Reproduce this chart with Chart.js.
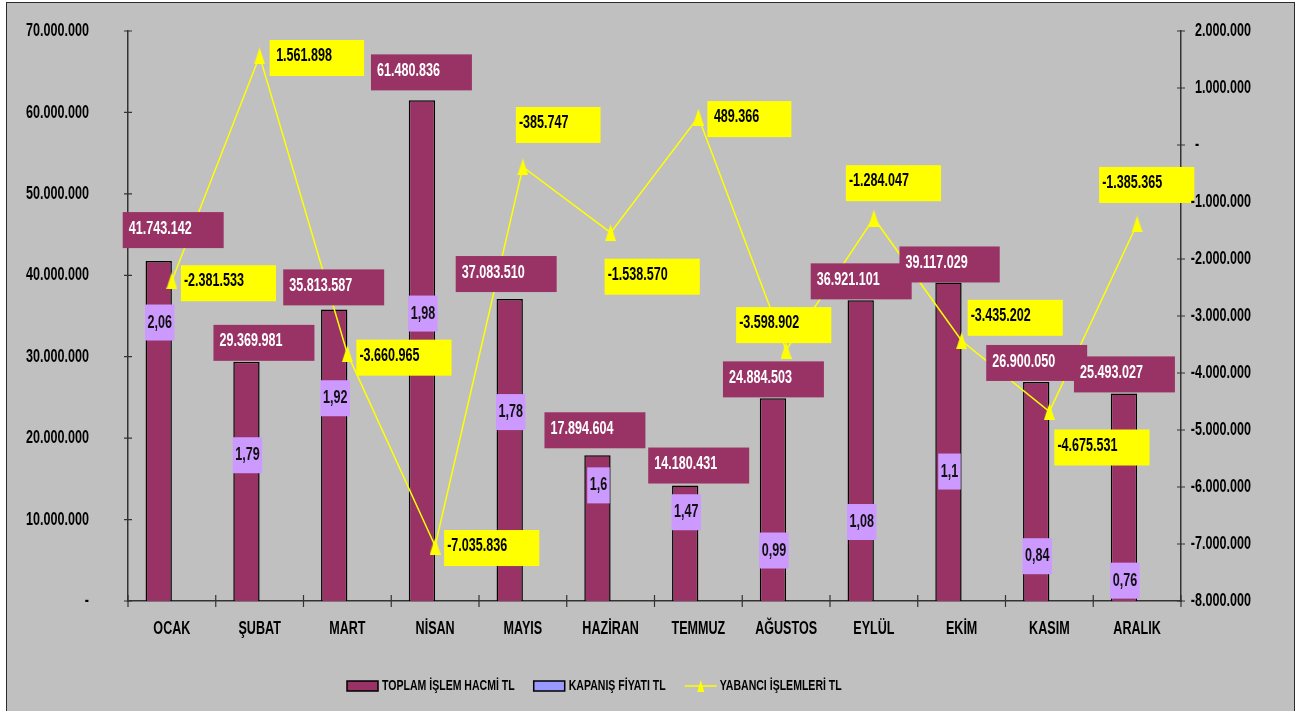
<!DOCTYPE html>
<html>
<head>
<meta charset="utf-8">
<title>Aylık İşlem Hacmi</title>
<style>
body { margin:0; background:#fff; overflow:hidden; }
#frame { position:absolute; left:6px; top:2px; width:1287px; height:760px; border:1.5px solid #2b2b2b; background:#c0c0c0; }
#chart { position:absolute; left:0; top:0; }
</style>
<script src="https://cdn.jsdelivr.net/npm/chart.js@4.4.0/dist/chart.umd.min.js"></script>
</head>
<body>
<div id="frame"></div>
<canvas id="chart" width="1297" height="711"></canvas>
<script>
// data
const months = ['OCAK','ŞUBAT','MART','NİSAN','MAYIS','HAZİRAN','TEMMUZ','AĞUSTOS','EYLÜL','EKİM','KASIM','ARALIK'];
const volume = [41743142, 29369981, 35813587, 61480836, 37083510, 17894604, 14180431, 24884503, 36921101, 39117029, 26900050, 25493027];
const closePrice = [2.06, 1.79, 1.92, 1.98, 1.78, 1.6, 1.47, 0.99, 1.08, 1.1, 0.84, 0.76];
const foreign = [-2381533, 1561898, -3660965, -7035836, -385747, -1538570, 489366, -3598902, -1284047, -3435202, -4675531, -1385365];
const seriesNames = ['TOPLAM İŞLEM HACMİ TL', 'KAPANIŞ FİYATI TL', 'YABANCI İŞLEMLERİ TL'];

// label layout (hand placed in the original, like dragged excel labels)
const volNudge = [[14,-12],[17,0],[-1,-3],[-1,-9],[-4,-6],[-3,-6],[13,-1],[0,0],[0,0],[1,1],[0,0],[0,0]];
const frgNudge = [[0,0],[1,-0.5],[0,1.5],[0,-0.5],[-16,-44.5],[-15,41.5],[0,-0.5],[-59,-27.5],[-37,-37.5],[-3,-25.5],[-4,33.5],[-47,-41.5]];
const priceLabelAt = [34.2e6, 17.9e6, 24.9e6, 35.3e6, 23.2e6, 14.2e6, 10.9e6, 6.2e6, 9.7e6, 15.9e6, 5.5e6, 2.5e6]; // left axis units
const legendLeft = 347, legendY = 686;

const SQ = 0.68, FONT = '"Liberation Sans", Arial, sans-serif';

function squeezed(ctx, txt, x, y, size, color, align) {
  ctx.save();
  ctx.font = 'bold ' + size + 'px ' + FONT;
  ctx.fillStyle = color;
  ctx.textBaseline = 'middle';
  ctx.textAlign = align || 'left';
  ctx.translate(x, y);
  ctx.scale(SQ, 1);
  ctx.fillText(txt, 0, 0);
  ctx.restore();
}
function textW(ctx, txt, size) {
  ctx.save();
  ctx.font = 'bold ' + size + 'px ' + FONT;
  const w = ctx.measureText(txt).width * SQ;
  ctx.restore();
  return w;
}
function fmtNum(v) {
  const s = String(Math.abs(Math.round(v))).replace(/\B(?=(\d{3})+(?!\d))/g, '.');
  return (v < 0 ? '-' : '') + s;
}

// tall yellow triangle marker
const tri = document.createElement('canvas');
tri.width = 11; tri.height = 17;
(function(){
  const c = tri.getContext('2d');
  c.fillStyle = '#ffff00';
  c.beginPath(); c.moveTo(5.5, 0); c.lineTo(11, 17); c.lineTo(0, 17); c.closePath(); c.fill();
})();

const excelLook = {
  id: 'excelLook',
  beforeDatasetsDraw(chart) {
    const ctx = chart.ctx, {x, y, y2} = chart.scales;
    ctx.save();
    ctx.strokeStyle = '#333'; ctx.lineWidth = 1.2;
    ctx.beginPath();
    y.ticks.forEach(t => { const py = y.getPixelForValue(t.value); ctx.moveTo(y.right - 4, py); ctx.lineTo(y.right + 4, py); });
    y2.ticks.forEach(t => { const py = y2.getPixelForValue(t.value); ctx.moveTo(y2.left - 4, py); ctx.lineTo(y2.left + 4, py); });
    for (let i = 0; i <= months.length; i++) {
      const px = x.getPixelForValue(i - 0.5);
      ctx.moveTo(px, x.top - 6); ctx.lineTo(px, x.top + 6);
    }
    ctx.stroke();
    ctx.restore();
  },
  afterDatasetsDraw(chart) {
    const ctx = chart.ctx, y = chart.scales.y;
    const volMeta = chart.getDatasetMeta(0), frgMeta = chart.getDatasetMeta(2);
    const sz = 18.5;
    volume.forEach((v, i) => {
      const bar = volMeta.data[i], txt = fmtNum(v);
      const w = 6 + textW(ctx, txt, sz) + 32;
      const left = bar.x - 50 + volNudge[i][0], top = bar.y - 37 + volNudge[i][1];
      ctx.fillStyle = '#993366';
      ctx.fillRect(left, top, w, 36);
      squeezed(ctx, txt, left + 6, top + 16.5, sz, '#fff');
    });
    closePrice.forEach((v, i) => {
      const txt = String(v).replace('.', ',');
      const w = textW(ctx, txt, sz) + 5;
      const cx = volMeta.data[i].x + 1, cy = y.getPixelForValue(priceLabelAt[i]);
      ctx.fillStyle = '#cc99ff';
      ctx.fillRect(cx - w / 2, cy - 18, w, 36);
      squeezed(ctx, txt, cx, cy, sz, '#111', 'center');
    });
    foreign.forEach((v, i) => {
      const pt = frgMeta.data[i], txt = fmtNum(v);
      const padL = v < 0 ? 3 : 6.5;
      const w = padL + textW(ctx, txt, sz) + 32;
      const left = pt.x + 9 + frgNudge[i][0], top = pt.y - 15.5 + frgNudge[i][1];
      ctx.fillStyle = '#ffff00';
      ctx.fillRect(left, top, w, 36);
      squeezed(ctx, txt, left + padL, top + 16, sz, '#000');
    });
  },
  afterDraw(chart) {
    const ctx = chart.ctx, {x, y, y2} = chart.scales;
    const sz = 18.5;
    y.ticks.forEach(t => {
      squeezed(ctx, t.value === 0 ? '-' : fmtNum(t.value), y.right - 39, y.getPixelForValue(t.value), sz, '#000', 'right');
    });
    y2.ticks.forEach(t => {
      const py = y2.getPixelForValue(t.value);
      if (t.value === 0) squeezed(ctx, '-', y2.left + 14, py, sz, '#000', 'left');
      else squeezed(ctx, fmtNum(t.value), y2.left + 70, py, sz, '#000', 'right');
    });
    months.forEach((m, i) => squeezed(ctx, m, x.getPixelForValue(i), x.top + 28, sz, '#000', 'center'));

    // legend
    let lx = legendLeft;
    const ls = 15.5;
    chart.data.datasets.forEach(ds => {
      ctx.save();
      if (ds.type === 'line') {
        ctx.strokeStyle = ds.borderColor; ctx.lineWidth = 1.5;
        ctx.beginPath(); ctx.moveTo(lx, legendY); ctx.lineTo(lx + 32, legendY); ctx.stroke();
        ctx.fillStyle = ds.borderColor;
        ctx.beginPath(); ctx.moveTo(lx + 16, legendY - 6); ctx.lineTo(lx + 19.5, legendY + 6); ctx.lineTo(lx + 12.5, legendY + 6); ctx.closePath(); ctx.fill();
      } else {
        ctx.fillStyle = ds.backgroundColor;
        ctx.fillRect(lx, legendY - 5, 31, 10);
        ctx.strokeStyle = '#000'; ctx.lineWidth = 1.5;
        ctx.strokeRect(lx, legendY - 5, 31, 10);
      }
      ctx.restore();
      lx += 35;
      squeezed(ctx, ds.label, lx, legendY, ls, '#000');
      lx += textW(ctx, ds.label, ls) + 19;
    });
  }
};

const axisBorder = { display: true, color: '#333', width: 1.5 };

new Chart(document.getElementById('chart'), {
  type: 'bar',
  data: {
    labels: months,
    datasets: [
      { label: seriesNames[0], data: volume, backgroundColor: '#993366', borderColor: '#000', borderWidth: 1.5,
        categoryPercentage: 0.6, barPercentage: 1, yAxisID: 'y', order: 1 },
      { label: seriesNames[1], data: closePrice, backgroundColor: '#9999ff', borderColor: '#000', borderWidth: 0,
        categoryPercentage: 0.6, barPercentage: 1, yAxisID: 'y', order: 2 },
      { type: 'line', label: seriesNames[2], data: foreign, borderColor: '#ffff00', backgroundColor: '#ffff00',
        borderWidth: 1.5, pointStyle: tri, pointRadius: 5, tension: 0, fill: false, yAxisID: 'y2', order: 0 }
    ]
  },
  options: {
    responsive: false,
    animation: false,
    devicePixelRatio: 1,
    layout: { padding: { top: 31, right: 46, bottom: 0, left: 0 } },
    plugins: { legend: { display: false }, tooltip: { enabled: false } },
    scales: {
      x: { grid: { display: false, drawTicks: false }, border: axisBorder, ticks: { display: false },
           afterFit: s => { s.height = 110; } },
      y: { position: 'left', min: 0, max: 70000000, ticks: { display: false, stepSize: 10000000 },
           grid: { display: false, drawTicks: false }, border: axisBorder, afterFit: s => { s.width = 128; } },
      y2: { position: 'right', min: -8000000, max: 2000000, ticks: { display: false, stepSize: 1000000 },
            grid: { display: false, drawTicks: false }, border: axisBorder, afterFit: s => { s.width = 70; } }
    }
  },
  plugins: [excelLook]
});
</script>
</body>
</html>
